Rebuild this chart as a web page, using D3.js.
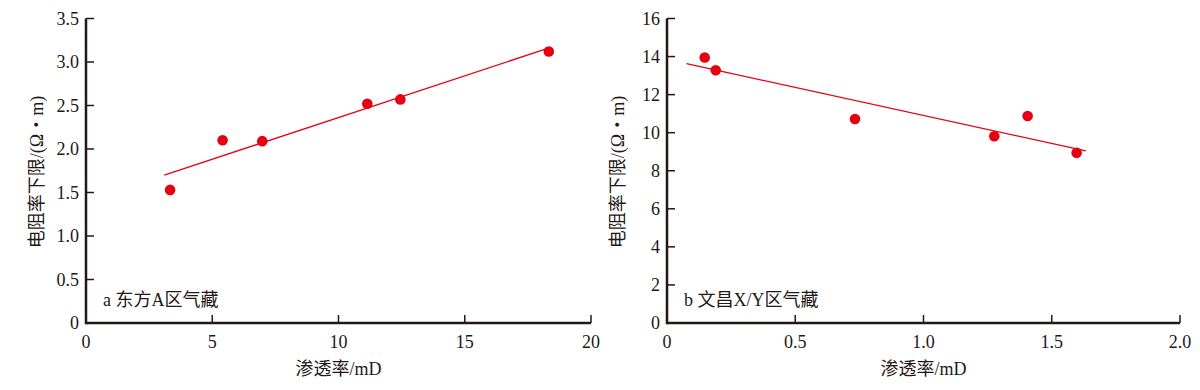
<!DOCTYPE html>
<html>
<head>
<meta charset="utf-8">
<script src="https://cdn.jsdelivr.net/npm/d3@7"></script>
<style>
  body { margin: 0; background: #fff; }
  svg text { font-family: "Liberation Serif", "Noto Sans CJK SC", serif; fill: #231815; }
</style>
</head>
<body>
<script>
// Panel a: 东方A区气藏
const permA = [3.33, 5.41, 6.98, 11.14, 12.45, 18.33];
const resA = [1.53, 2.10, 2.09, 2.52, 2.57, 3.12];
const fitA = [[3.10, 1.70], [18.22, 3.15]];
const xTicksA = [0, 5, 10, 15, 20];
const yTicksA = [0, 0.5, 1.0, 1.5, 2.0, 2.5, 3.0, 3.5];

// Panel b: 文昌X/Y区气藏
const permB = [0.147, 0.19, 0.733, 1.276, 1.406, 1.597];
const resB = [13.95, 13.28, 10.72, 9.81, 10.88, 8.94];
const fitB = [[0.076, 13.63], [1.633, 9.04]];
const xTicksB = [0, 0.5, 1.0, 1.5, 2.0];
const yTicksB = [0, 2, 4, 6, 8, 10, 12, 14, 16];

const red = "#e60012";
const ink = "#231815";

let svg = d3.select("body").append("svg")
	.attr("width", 1200)
	.attr("height", 390);

function drawPanel(opt) {
	let x = d3.scaleLinear().domain(opt.xDomain).range([opt.left, opt.right]);
	let y = d3.scaleLinear().domain(opt.yDomain).range([323, 18.5]);
	let g = svg.append("g");

	// Axis lines
	g.append("line")
		.attr("x1", opt.left).attr("x2", opt.right)
		.attr("y1", y(0)).attr("y2", y(0))
		.attr("stroke", ink).attr("stroke-width", 2.5);
	g.append("line")
		.attr("x1", opt.left).attr("x2", opt.left)
		.attr("y1", y(0) + 1.25).attr("y2", y(opt.yDomain[1]))
		.attr("stroke", ink).attr("stroke-width", 2.5);

	// Ticks
	g.selectAll(".xt").data(opt.xTicks).enter().append("line")
		.attr("x1", d => x(d)).attr("x2", d => x(d))
		.attr("y1", y(0)).attr("y2", y(0) - 8)
		.attr("stroke", ink).attr("stroke-width", 1.5);
	g.selectAll(".yt").data(opt.yTicks).enter().append("line")
		.attr("x1", opt.left).attr("x2", opt.left + 8)
		.attr("y1", d => y(d)).attr("y2", d => y(d))
		.attr("stroke", ink).attr("stroke-width", 1.5);

	// Tick labels
	g.selectAll(".xl").data(opt.xTicks).enter().append("text")
		.attr("x", d => x(d)).attr("y", 348)
		.attr("text-anchor", "middle")
		.attr("font-size", 18)
		.text(opt.xFmt);
	g.selectAll(".yl").data(opt.yTicks).enter().append("text")
		.attr("x", opt.left - 7).attr("y", d => y(d) + 6)
		.attr("text-anchor", "end")
		.attr("font-size", 18)
		.text(opt.yFmt);

	// Axis titles
	g.append("text")
		.attr("x", (opt.left + opt.right) / 2).attr("y", 375)
		.attr("text-anchor", "middle")
		.attr("font-size", 18)
		.text("渗透率/mD");
	g.append("text")
		.attr("transform", "translate(" + (opt.left - 43) + "," + 172 + ") rotate(-90)")
		.attr("text-anchor", "middle")
		.attr("font-size", 18)
		.text("电阻率下限/(Ω・m)");

	// Panel label
	g.append("text")
		.attr("x", opt.left + 17).attr("y", 306)
		.attr("font-size", 18)
		.text(opt.label);

	// Fit line
	g.append("line")
		.attr("x1", x(opt.fit[0][0])).attr("y1", y(opt.fit[0][1]))
		.attr("x2", x(opt.fit[1][0])).attr("y2", y(opt.fit[1][1]))
		.attr("stroke", red).attr("stroke-width", 1.3);

	// Points
	g.selectAll("circle").data(opt.xs).enter().append("circle")
		.attr("cx", d => x(d))
		.attr("cy", (d, i) => y(opt.ys[i]))
		.attr("r", 5.3)
		.attr("fill", red);
}

drawPanel({
	xDomain: [0, 20], yDomain: [0, 3.5], left: 86, right: 591,
	xTicks: xTicksA, yTicks: yTicksA,
	xFmt: d => d, yFmt: d => d === 0 ? "0" : d3.format(".1f")(d),
	xs: permA, ys: resA, fit: fitA, label: "a 东方A区气藏"
});

drawPanel({
	xDomain: [0, 2], yDomain: [0, 16], left: 667, right: 1180,
	xTicks: xTicksB, yTicks: yTicksB,
	xFmt: d => d === 0 ? "0" : d3.format(".1f")(d), yFmt: d => d,
	xs: permB, ys: resB, fit: fitB, label: "b 文昌X/Y区气藏"
});
</script>
</body>
</html>
